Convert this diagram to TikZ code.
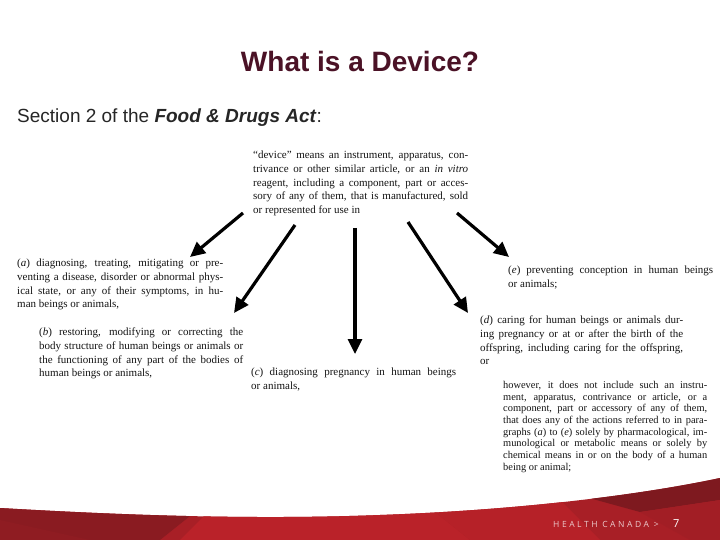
\documentclass[tikz,border=0pt]{standalone}
\usepackage{fontspec}
\setmainfont{Liberation Serif}
\newfontfamily\arialf{Liberation Sans}
\newfontfamily\hcfont[LetterSpace=30]{Open Sans}
\usetikzlibrary{arrows.meta}
\setlength\parindent{0pt}
\definecolor{titlec}{HTML}{4B1226}
\definecolor{redbase}{HTML}{A81F26}
\definecolor{reddark}{HTML}{8A1B21}
\definecolor{redlight}{HTML}{BA2229}
\definecolor{reddeep}{HTML}{7E191F}
\definecolor{hctext}{HTML}{EBC9CB}
\newcommand{\jl}[1]{\makebox[\hsize][s]{\spaceskip=0pt\xspaceskip=0pt #1}\\}
\tikzset{
  body/.style={anchor=north west, inner sep=0pt, align=justify, text=black!92,
    font=\fontsize{11bp}{13.6bp}\selectfont},
  bodysm/.style={body, font=\fontsize{10.4bp}{11.7bp}\selectfont},
  bigarrow/.style={line width=3.2bp, -{Triangle[length=15bp,width=14bp]}},
}
\begin{document}
\begin{tikzpicture}[x=1bp,y=-1bp]
\useasboundingbox (0,0) rectangle (720,540);
\fill[white] (0,0) rectangle (720,540);

% bottom red band
\begin{scope}
\clip (0,508) .. controls (120,515) and (250,520) .. (380,515)
  .. controls (520,510) and (640,495) .. (720,478) -- (720,540) -- (0,540) -- cycle;
\fill[redbase] (0,470) rectangle (720,540);
\fill[reddark] (0,500) -- (210,500) -- (160,540) -- (0,540) -- cycle;
\fill[reddark!85!redbase] (0,520) -- (90,540) -- (0,540) -- cycle;
\fill[redlight] (220,500) -- (420,500) -- (470,540) -- (180,540) -- cycle;
\fill[redlight!80!redbase] (420,500) -- (560,500) -- (600,540) -- (470,540) -- cycle;
\fill[reddeep] (560,490) -- (720,470) -- (720,500) -- (640,512) -- cycle;
\fill[redbase!85!reddeep] (640,512) -- (720,500) -- (720,540) -- (690,540) -- cycle;
\end{scope}

% title and heading
\node[font=\arialf\bfseries\fontsize{28bp}{32bp}\selectfont, text=titlec, anchor=base] (title) at (360,72) {What is a Device?};
\node[font=\arialf\fontsize{19bp}{22bp}\selectfont, text=black!85, anchor=base west, inner sep=0pt] (sect) at (17,123)
  {Section 2 of the \textbf{\textit{Food \& Drugs Act}}:};

% text blocks
\node[body, text width=215bp] (dev) at (253,151) {%
\jl{“device” means an instrument, apparatus, con-}%
\jl{trivance or other similar article, or an \textit{in vitro}}%
\jl{reagent, including a component, part or acces-}%
\jl{sory of any of them, that is manufactured, sold}%
or represented for use in};

\node[body, text width=206bp] (a) at (17,259) {%
\jl{(\textit{a}) diagnosing, treating, mitigating or pre-}%
\jl{venting a disease, disorder or abnormal phys-}%
\jl{ical state, or any of their symptoms, in hu-}%
man beings or animals,};

\node[body, text width=204bp] (b) at (39,328) {%
\jl{(\textit{b}) restoring, modifying or correcting the}%
\jl{body structure of human beings or animals or}%
\jl{the functioning of any part of the bodies of}%
human beings or animals,};

\node[body, text width=205bp] (c) at (251,368) {%
\jl{(\textit{c}) diagnosing pregnancy in human beings}%
or animals,};

\node[body, text width=205bp] (e) at (508,266) {%
\jl{(\textit{e}) preventing conception in human beings}%
or animals;};

\node[body, text width=203bp] (d) at (480,316) {%
\jl{(\textit{d}) caring for human beings or animals dur-}%
\jl{ing pregnancy or at or after the birth of the}%
\jl{offspring, including caring for the offspring,}%
or};

\node[bodysm, text width=204bp] (how) at (503,381) {%
\jl{however, it does not include such an instru-}%
\jl{ment, apparatus, contrivance or article, or a}%
\jl{component, part or accessory of any of them,}%
\jl{that does any of the actions referred to in para-}%
\jl{graphs (\textit{a}) to (\textit{e}) solely by pharmacological, im-}%
\jl{munological or metabolic means or solely by}%
\jl{chemical means in or on the body of a human}%
being or animal;};

% arrows
\coordinate (t1) at (243,213); \coordinate (h1) at (190,257);
\coordinate (t2) at (295,225); \coordinate (h2) at (234,313);
\coordinate (t3) at (355,228); \coordinate (h3) at (355,354);
\coordinate (t4) at (408,222); \coordinate (h4) at (468,313);
\coordinate (t5) at (457,213); \coordinate (h5) at (509,257);
\draw[bigarrow] (t1) -- (h1);
\draw[bigarrow] (t2) -- (h2);
\draw[bigarrow] (t3) -- (h3);
\draw[bigarrow] (t4) -- (h4);
\draw[bigarrow] (t5) -- (h5);

% footer
\node[font=\hcfont\fontsize{8.5bp}{10bp}\selectfont, text=hctext, anchor=base west, inner sep=0pt] (hc) at (553,527) {HEALTH CANADA >};
\node[font=\hcfont\fontsize{11bp}{12bp}\selectfont, text=white, anchor=base west, inner sep=0pt] (pg) at (673,527) {7};
\end{tikzpicture}
\end{document}
